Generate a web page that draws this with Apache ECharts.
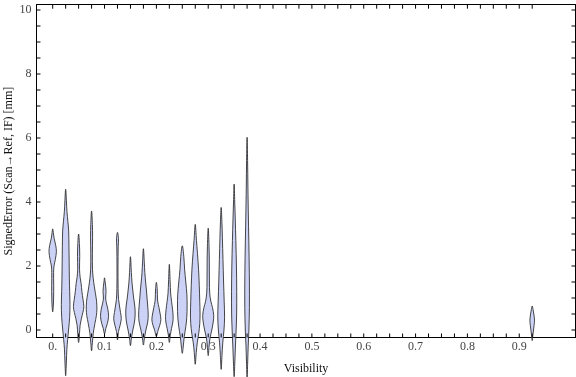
<!DOCTYPE html>
<html>
<head>
<meta charset="utf-8">
<script src="https://cdn.jsdelivr.net/npm/echarts@6/dist/echarts.min.js"></script>
<style>
html, body { margin: 0; padding: 0; background: #fff; }
#chart { width: 576px; height: 377px; }
</style>
</head>
<body>
<div id="chart"></div>
<script>
// visibility bins where a violin is drawn
var positions = [0, 0.025, 0.05, 0.075, 0.1, 0.125, 0.15, 0.175, 0.2, 0.225,
                 0.25, 0.275, 0.3, 0.325, 0.35, 0.375, 0.925];

// violin outlines, bottom to top: [signed error (mm), density half-width]
var v00 = [[0.57,0],[0.75,0.6],[1.0,0.9],[1.4,1.0],[1.8,0.9],[2.0,1.3],[2.2,2.6],[2.45,3.7],[2.65,3.0],[2.85,1.5],[3.0,0.8],[3.16,0]];
var v01 = [[-1.43,0],[-1.0,0.7],[-0.6,1.2],[-0.3,2.0],[0,2.9],[0.4,4.0],[0.8,4.3],[1.2,4.0],[1.6,3.7],[2.1,3.5],[2.6,3.3],[3.1,3.0],[3.4,2.2],[3.7,1.3],[4.0,0.8],[4.4,0]];
var v02 = [[-0.39,0],[-0.1,0.9],[0.15,1.5],[0.35,2.7],[0.55,4.3],[0.73,5.2],[0.95,4.4],[1.2,3.3],[1.45,2.5],[1.65,1.5],[1.9,0.9],[2.3,1.1],[2.7,0.8],[3.0,0]];
var v03 = [[-0.65,0],[-0.4,0.8],[-0.1,1.7],[0.2,3.3],[0.45,4.8],[0.65,5.3],[0.9,5.0],[1.15,3.8],[1.35,2.8],[1.6,1.7],[1.9,0.9],[2.4,0.8],[2.9,1.0],[3.3,0.8],[3.72,0]];
var v04 = [[-0.12,0],[0.05,1.3],[0.2,2.8],[0.42,4.0],[0.65,3.3],[0.85,1.8],[1.0,1.1],[1.2,1.5],[1.35,1.2],[1.5,0.6],[1.63,0]];
var v05 = [[-0.31,0],[-0.05,1.0],[0.15,2.6],[0.36,3.8],[0.55,3.0],[0.75,2.0],[0.95,1.1],[1.3,0.6],[2.0,0.5],[2.6,0.7],[2.85,1.0],[3.05,0]];
var v06 = [[-0.49,0],[-0.25,1.0],[0,2.4],[0.25,4.0],[0.5,4.7],[0.75,4.3],[1.0,3.2],[1.25,2.3],[1.5,1.5],[1.8,0.9],[2.29,0]];
var v07 = [[-0.47,0],[-0.25,1.0],[0,2.5],[0.25,4.3],[0.47,4.8],[0.75,4.3],[1.0,3.6],[1.25,3.0],[1.5,2.2],[1.8,1.4],[2.1,0.9],[2.54,0]];
var v08 = [[-0.19,0],[0,1.8],[0.15,3.4],[0.32,4.5],[0.5,3.8],[0.7,2.6],[0.9,1.3],[1.1,1.0],[1.3,0.8],[1.49,0]];
var v09 = [[-0.39,0],[-0.15,1.0],[0.05,2.2],[0.25,3.5],[0.42,3.8],[0.65,3.2],[0.9,2.2],[1.15,1.3],[1.5,0.8],[2.05,0]];
var v10 = [[-0.73,0],[-0.5,1.0],[-0.2,2.0],[0.1,3.5],[0.4,4.5],[0.75,4.8],[1.1,4.6],[1.5,3.5],[1.9,2.3],[2.3,1.5],[2.63,0]];
var v11 = [[-1.07,0],[-0.7,1.0],[-0.4,2.0],[-0.1,3.5],[0.2,4.5],[0.5,4.8],[0.9,4.5],[1.4,4.0],[1.9,3.3],[2.4,2.2],[2.8,1.2],[3.3,0]];
var v12 = [[-0.8,0],[-0.5,0.9],[-0.25,1.8],[0,3.6],[0.25,5.0],[0.45,5.5],[0.7,4.3],[0.9,2.6],[1.15,1.5],[1.5,1.2],[2.0,1.1],[2.5,0.9],[3.18,0]];
var v13 = [[-1.23,0],[-0.8,0.8],[-0.4,1.6],[0,2.8],[0.4,3.4],[0.9,3.0],[1.5,2.4],[2.2,1.8],[2.9,1.2],[3.4,0.7],[3.83,0]];
var v14 = [[-1.46,0],[-1.0,0.7],[-0.5,1.3],[0,2.0],[0.5,2.5],[1.2,2.6],[2.0,2.3],[2.8,1.7],[3.5,1.1],[4.0,0.6],[4.56,0]];
var v15 = [[-1.5,0],[-1.0,0.6],[-0.5,1.1],[0,1.8],[0.7,2.3],[1.5,2.3],[2.5,1.9],[3.5,1.3],[4.5,0.8],[5.3,0.5],[6.02,0]];
var v16 = [[-0.33,0],[-0.15,0.7],[0.0,1.3],[0.15,1.9],[0.31,2.3],[0.5,1.6],[0.65,0.8],[0.75,0]];

var profiles = [v00, v01, v02, v03, v04, v05, v06, v07, v08, v09, v10, v11, v12, v13, v14, v15, v16];

// tick marks on the frame
var xTicks = [0, 0.025, 0.05, 0.075, 0.1, 0.125, 0.15, 0.175, 0.2, 0.225, 0.25, 0.275, 0.3, 0.325,
              0.35, 0.375, 0.4, 0.425, 0.45, 0.475, 0.5, 0.525, 0.55, 0.575, 0.6, 0.625, 0.65, 0.675,
              0.7, 0.725, 0.75, 0.775, 0.8, 0.825, 0.85, 0.875, 0.9, 0.925];
var yTicks = [0, 0.5, 1, 1.5, 2, 2.5, 3, 3.5, 4, 4.5, 5, 5.5, 6, 6.5, 7, 7.5, 8, 8.5, 9, 9.5, 10];
// labels on tenths / even values
var xTickLabels = ['0.', '0.1', '0.2', '0.3', '0.4', '0.5', '0.6', '0.7', '0.8', '0.9'];
var yTickLabels = ['0', '2', '4', '6', '8', '10'];

// frame edges in data units
var frameX = [-0.0313, 1.0085];
var frameY = [-0.234, 10.166];

var widthScale = 0.00193; // density unit -> visibility units

var font = 'Liberation Serif';
var lineStyle = { color: '#000', width: 1 };

function renderViolin(params, api) {
    var x = api.value(0);
    var prof = profiles[api.value(1)];
    var pts = [];
    var i;
    for (i = 0; i < prof.length; i++) {
        pts.push(api.coord([x + prof[i][1] * widthScale, prof[i][0]]));
    }
    for (i = prof.length - 2; i > 0; i--) {
        pts.push(api.coord([x - prof[i][1] * widthScale, prof[i][0]]));
    }
    return {
        type: 'polygon',
        shape: { points: pts, smooth: 0.35 },
        style: { fill: '#cbd2f6', stroke: 'rgba(40,40,40,0.85)', lineWidth: 1 }
    };
}

// inward tick marks on both opposite frame sides
function renderTick(params, api) {
    var v = api.value(0);
    var a, b;
    if (api.value(1) === 0) {
        a = api.coord([v, frameY[0]]);
        b = api.coord([v, frameY[1]]);
        return {
            type: 'group',
            children: [
                { type: 'line', shape: { x1: a[0], y1: a[1], x2: a[0], y2: a[1] - 4 }, style: { stroke: '#000', lineWidth: 1 } },
                { type: 'line', shape: { x1: b[0], y1: b[1], x2: b[0], y2: b[1] + 4 }, style: { stroke: '#000', lineWidth: 1 } }
            ]
        };
    }
    a = api.coord([frameX[0], v]);
    b = api.coord([frameX[1], v]);
    return {
        type: 'group',
        children: [
            { type: 'line', shape: { x1: a[0], y1: a[1], x2: a[0] + 4, y2: a[1] }, style: { stroke: '#000', lineWidth: 1 } },
            { type: 'line', shape: { x1: b[0], y1: b[1], x2: b[0] - 4, y2: b[1] }, style: { stroke: '#000', lineWidth: 1 } }
        ]
    };
}

// frame axis: line only
function frameAxis(grid, pos) {
    return {
        gridIndex: grid, type: 'value', position: pos, min: 0, max: 1,
        axisLine: { show: true, onZero: false, lineStyle: lineStyle },
        axisTick: { show: false }, axisLabel: { show: false }, splitLine: { show: false }
    };
}

// label axis: labels only, pushed out onto the frame
function labelAxis(pos, min, max, interval, offset) {
    return {
        gridIndex: 1, type: 'value', position: pos, min: min, max: max, interval: interval,
        offset: offset,
        axisLine: { show: false, onZero: false },
        axisTick: { show: false },
        axisLabel: { show: false }, splitLine: { show: false }
    };
}

var xBottom = labelAxis('bottom', 0, 0.925, 0.025, 7.5);
xBottom.axisLabel = {
    margin: 3, fontFamily: font, fontSize: 12, color: '#444',
    formatter: function (v) {
        var k = Math.round(v * 10);
        return Math.abs(v * 10 - k) < 1e-6 ? (xTickLabels[k] || '') : '';
    }
};
var yLeft = labelAxis('left', 0, 10, 0.5, 16.2);
yLeft.axisLabel = {
    margin: 5, fontFamily: font, fontSize: 12, color: '#444',
    formatter: function (v) {
        return v % 2 === 0 ? yTickLabels[v / 2] : '';
    }
};

var xFrameBottom = frameAxis(0, 'bottom');
xFrameBottom.name = 'Visibility';
xFrameBottom.nameLocation = 'middle';
xFrameBottom.nameGap = 25;
xFrameBottom.nameMoveOverlap = false;
xFrameBottom.nameTextStyle = { fontFamily: font, fontSize: 12, color: '#111' };

var yFrameLeft = frameAxis(0, 'left');
yFrameLeft.name = 'SignedError (Scan\u2192Ref, IF) [mm]';
yFrameLeft.nameLocation = 'middle';
yFrameLeft.nameGap = 22;
yFrameLeft.nameMoveOverlap = false;
yFrameLeft.nameTextStyle = { fontFamily: font, fontSize: 12, color: '#111' };

var tickData = xTicks.map(function (v) { return [v, 0]; })
    .concat(yTicks.map(function (v) { return [v, 1]; }));

var myChart = echarts.init(document.getElementById('chart'));
var option = {
    animation: false,
    backgroundColor: '#fff',
    grid: [
        // frame
        { left: 36.5, right: 0.5, top: 4.7, bottom: 39.5, outerBoundsMode: 'none' },
        // data area: x 0..0.925, y 0..10
        { left: 52.7, width: 479.5, top: 10, height: 320 }
    ],
    xAxis: [
        xFrameBottom,
        frameAxis(0, 'top'),
        xBottom
    ],
    yAxis: [
        yFrameLeft,
        frameAxis(0, 'right'),
        yLeft
    ],
    series: [{
        type: 'custom',
        xAxisIndex: 2,
        yAxisIndex: 2,
        clip: false,
        renderItem: renderViolin,
        encode: { x: 0 },
        data: positions.map(function (p, i) { return [p, i]; })
    }, {
        type: 'custom',
        xAxisIndex: 2,
        yAxisIndex: 2,
        clip: false,
        silent: true,
        renderItem: renderTick,
        encode: { x: 0 },
        data: tickData
    }]
};
myChart.setOption(option);
</script>
</body>
</html>
